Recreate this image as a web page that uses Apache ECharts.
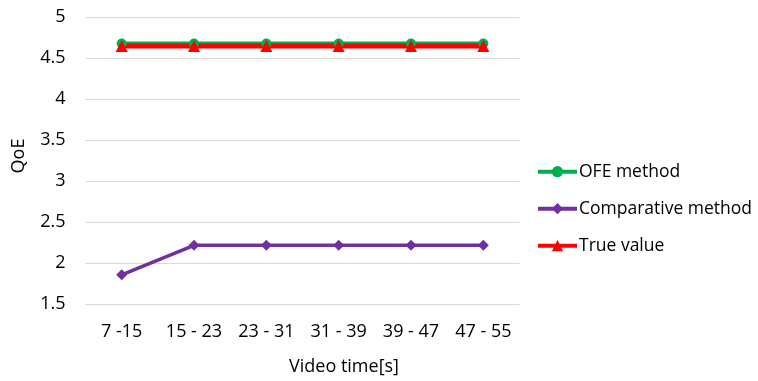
<!DOCTYPE html>
<html><head><meta charset="utf-8">
<script src="https://cdn.jsdelivr.net/npm/echarts@6/dist/echarts.min.js"></script>
<style>html,body{margin:0;padding:0;background:#fff}#c{width:758px;height:381px}</style>
</head><body><div id="c"></div>
<script>
const categories = ['7 -15', '15 - 23', '23 - 31', '31 - 39', '39 - 47', '47 - 55'];
const ofeMethod = [4.68, 4.68, 4.68, 4.68, 4.68, 4.68];
const comparativeMethod = [1.86, 2.22, 2.22, 2.22, 2.22, 2.22];
const trueValue = [4.65, 4.65, 4.65, 4.65, 4.65, 4.65];
const yTicks = { min: 1.5, max: 5, interval: 0.5 };

const FONT = '"Open Sans", "Noto Sans", sans-serif';
const chart = echarts.init(document.getElementById('c'), null, { renderer: 'canvas' });
chart.setOption({
  animation: false,
  backgroundColor: '#fff',
  textStyle: { fontFamily: FONT },
  grid: { left: 85.5, right: 238.5, top: 17.3, bottom: 76.7, containLabel: false },
  xAxis: {
    type: 'category', data: categories, boundaryGap: true,
    axisLine: { show: false }, axisTick: { show: false },
    axisLabel: { color: '#000', fontSize: 18, fontFamily: FONT, margin: 19, interval: 0 }
  },
  yAxis: {
    type: 'value', min: yTicks.min, max: yTicks.max, interval: yTicks.interval,
    axisLine: { show: false }, axisTick: { show: false },
    splitLine: { lineStyle: { color: '#d9d9d9', width: 1 } },
    axisLabel: { color: '#000', fontSize: 18, fontFamily: FONT, margin: 20 }
  },
  legend: {
    orient: 'vertical', left: 536, top: 162.7, padding: 0,
    itemWidth: 39, itemHeight: 14, itemGap: 19,
    lineStyle: { width: 4 },
    textStyle: { color: '#000', fontSize: 17.5, lineHeight: 18, fontFamily: FONT, padding: [0, 0, 0, -3] },
    data: ['OFE method', 'Comparative method', 'True value']
  },
  graphic: [
    { type: 'text', x: 344, y: 367, style: { text: 'Video time[s]', fontSize: 18, fontFamily: FONT, fill: '#000', textAlign: 'center', textVerticalAlign: 'middle' } },
    { type: 'text', x: 19, y: 156, rotation: Math.PI / 2, style: { text: 'QoE', fontSize: 18, fontFamily: FONT, fill: '#000', textAlign: 'center', textVerticalAlign: 'middle' } }
  ],
  series: [
    { name: 'OFE method', type: 'line', data: ofeMethod, color: '#00B050',
      lineStyle: { width: 4, color: '#00B050' }, symbol: 'circle', symbolSize: 10,
      itemStyle: { color: '#00B050' } },
    { name: 'Comparative method', type: 'line', data: comparativeMethod, color: '#7030A0',
      lineStyle: { width: 3.5, color: '#7030A0' }, symbol: 'diamond', symbolSize: 11,
      itemStyle: { color: '#7030A0' } },
    { name: 'True value', type: 'line', data: trueValue, color: '#FF0000',
      lineStyle: { width: 5, color: '#FF0000' }, symbol: 'triangle', symbolSize: 12,
      itemStyle: { color: '#FF0000' } }
  ]
});
</script></body></html>
